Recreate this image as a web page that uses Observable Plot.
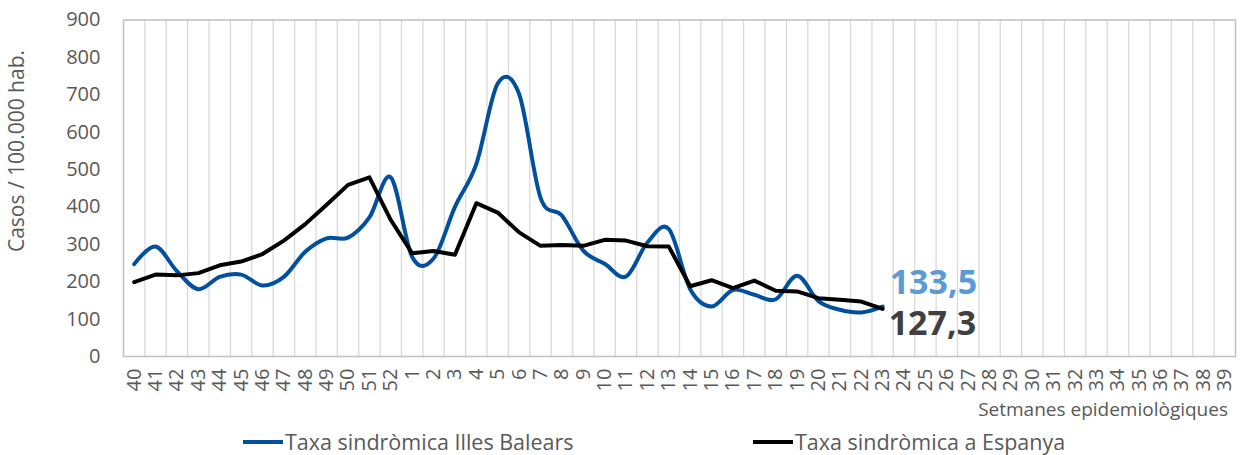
<!DOCTYPE html>
<html>
<head>
<meta charset="utf-8">
<script src="https://cdn.jsdelivr.net/npm/d3@7"></script>
<script src="https://cdn.jsdelivr.net/npm/@observablehq/plot@0.6"></script>
<style>
  html, body { margin: 0; padding: 0; background: #fff; }
  #wrap { position: relative; width: 1241px; height: 455px; overflow: hidden; font-family: "Open Sans", sans-serif; }
  #legend { position: absolute; left: 0; top: 428px; width: 1241px; height: 27px; color: #595959; font-size: 21.5px; }
  .item { position: absolute; top: 0; height: 27px; display: flex; align-items: center; white-space: nowrap; }
  .sw { width: 40px; height: 4px; margin-right: 2px; }
</style>
</head>
<body>
<div id="wrap">
  <div id="chart"></div>
  <div id="legend"></div>
</div>
<script>
const weeks = ["40","41","42","43","44","45","46","47","48","49","50","51","52",
  "1","2","3","4","5","6","7","8","9","10","11","12","13","14","15","16","17","18","19",
  "20","21","22","23","24","25","26","27","28","29","30","31","32","33","34","35","36","37","38","39"];

const balears = [247, 294, 228, 180, 213, 219, 190, 213, 280, 316, 318, 372, 479,
  266, 262, 400, 515, 730, 702, 425, 377, 283, 248, 214, 305, 341, 180, 134, 178, 165, 153, 216,
  148, 125, 118, 133.5];

const espanya = [199, 219, 217, 223, 244, 254, 274, 310, 354, 406, 459, 479, 365,
  276, 282, 272, 410, 385, 332, 296, 298, 296, 312, 310, 295, 294, 188, 204, 183, 203, 176, 174,
  156, 152, 147, 127.3];

const yTicks = [0, 100, 200, 300, 400, 500, 600, 700, 800, 900];

const seriesNames = ["Taxa sindròmica Illes Balears", "Taxa sindròmica a Espanya"];
const colors = ["#00509e", "#000000"];
const labelColors = ["#5b9bd5", "#404040"];
const yLabel = "Casos / 100.000 hab.";
const xLabel = "Setmanes epidemiològiques";

const fmt = v => String(v).replace(".", ",");

const blueData = balears.map((v, i) => ({i, v}));
const blackData = espanya.map((v, i) => ({i, v}));
const lastB = blueData[blueData.length - 1];
const lastE = blackData[blackData.length - 1];
const gridPos = d3.range(weeks.length - 1).map(i => i + 0.5);

const W = 1241, H = 428;
const chart = Plot.plot({
  width: W,
  height: H,
  marginLeft: 123,
  marginRight: 6,
  marginTop: 19.5,
  marginBottom: 72,
  style: { fontFamily: "Open Sans", fontSize: "20px", color: "#595959", background: "#fff" },
  x: {
    type: "linear",
    domain: [-0.5, weeks.length - 0.5],
    ticks: d3.range(weeks.length),
    tickFormat: i => weeks[i],
    tickRotate: -90,
    tickSize: 0,
    tickPadding: 12,
    label: null
  },
  y: {
    domain: [0, 900],
    ticks: yTicks,
    tickSize: 0,
    tickPadding: 23,
    label: null
  },
  marks: [
    Plot.ruleX(gridPos, { x: d => d, stroke: "#d9d9d9", strokeWidth: 1.3 }),
    Plot.frame({ stroke: "#c0c0c0", strokeWidth: 1.5 }),
    Plot.line(blueData, { x: "i", y: "v", stroke: colors[0], strokeWidth: 4, curve: "cardinal", strokeLinecap: "round" }),
    Plot.line(blackData, { x: "i", y: "v", stroke: colors[1], strokeWidth: 4, strokeLinejoin: "round" }),
    Plot.text([lastB], { x: "i", y: "v", text: d => fmt(d.v), dx: 7, dy: -23, textAnchor: "start",
      fill: labelColors[0], fontSize: 34, fontWeight: "bold" }),
    Plot.text([lastE], { x: "i", y: "v", text: d => fmt(d.v), dx: 6, dy: 15, textAnchor: "start",
      fill: labelColors[1], fontSize: 34, fontWeight: "bold" })
  ]
});
document.getElementById("chart").appendChild(chart);

const svg = d3.select(chart);
svg.append("text")
  .attr("transform", "translate(24,151) rotate(-90)")
  .attr("text-anchor", "middle")
  .attr("fill", "#595959")
  .attr("font-size", 21)
  .attr("font-family", "Open Sans")
  .text(yLabel);
svg.append("text")
  .attr("x", 1228)
  .attr("y", 416)
  .attr("text-anchor", "end")
  .attr("fill", "#595959")
  .attr("font-size", 19)
  .attr("font-family", "Open Sans")
  .text(xLabel);

const legend = d3.select("#legend");
const legendLeft = [243, 753];
seriesNames.forEach((name, k) => {
  const it = legend.append("div").attr("class", "item").style("left", legendLeft[k] + "px");
  it.append("div").attr("class", "sw").style("background", colors[k]);
  it.append("span").text(name);
});
</script>
</body>
</html>
